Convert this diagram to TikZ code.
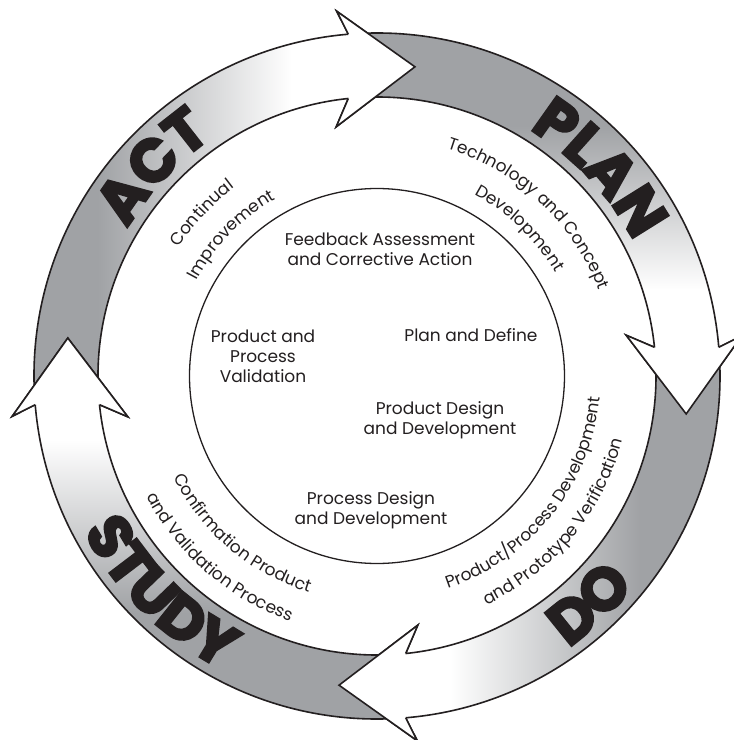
\documentclass[tikz,border=0pt]{standalone}
\usepackage{fontspec}
\setmainfont{Poppins}
\newfontfamily\heavyfont{Poppins}[BoldFeatures={FakeBold=4}]
\usetikzlibrary{decorations.text}
\definecolor{bandgray}{RGB}{160,162,165}
\definecolor{ink}{RGB}{35,31,32}
\newcommand\bandpath[1]{({#1+100}:343) arc[start angle={#1+100}, end angle={#1+11.8}, radius=343] -- ({#1+13.3}:367) -- (#1:311.5) -- ({#1+16.3}:252.5) -- ({#1+12.9}:279) arc[start angle={#1+12.9}, end angle={#1+100}, radius=279] -- cycle}
\newcommand\headfill[1]{({#1+11.8}:343) -- ({#1+13.3}:367) -- (#1:311.5) -- ({#1+16.3}:252.5) -- ({#1+12.9}:279) -- cycle}
\newcommand\headline[1]{({#1+11.8}:343) -- ({#1+13.3}:367) -- (#1:311.5) -- ({#1+16.3}:252.5) -- ({#1+12.9}:279)}
\newcommand\arcfont{\color{ink}\fontsize{17}{20}\selectfont}
\newcommand\bigfont{\color{ink}\heavyfont\bfseries\fontsize{60}{60}\selectfont}
\begin{document}
\begin{tikzpicture}[x=1pt,y=1pt,
  outline/.style={draw=ink, line width=1.6pt, line join=miter},
  inner/.style={align=center, text=ink, font=\fontsize{17}{20}\selectfont, inner sep=0pt},
  arctext/.style={decorate, decoration={text along path, text align=center, text={|\arcfont|#1}}},
  bigtext/.style={decorate, decoration={text along path, text align=center, text={|\bigfont|#1}}}]
\fill[white] (-377,-364) rectangle (357,376);
\useasboundingbox (-377,-364) rectangle (357,376);
% ACT band
\begin{scope}
\clip \bandpath{83};
\fill[bandgray] (-400,-400) rectangle (-279,400);
\shade[left color=bandgray, right color=white] (-280,-400) rectangle (-85,400);
\fill[white] (-86,-400) rectangle (400,400);
\end{scope}
\path[outline] \bandpath{83};
% PLAN band
\begin{scope}
\clip \bandpath{-7};
\fill[bandgray] (-400,249) rectangle (400,400);
\shade[top color=bandgray, bottom color=white] (-400,86) rectangle (400,250);
\fill[white] (-400,-400) rectangle (400,87);
\end{scope}
\path[outline] \bandpath{-7};
% DO band
\begin{scope}
\clip \bandpath{263};
\fill[bandgray] (262,-400) rectangle (400,400);
\shade[left color=white, right color=bandgray] (73,-400) rectangle (263,400);
\fill[white] (-400,-400) rectangle (74,400);
\end{scope}
\path[outline] \bandpath{263};
% STUDY band
\begin{scope}
\clip \bandpath{173};
\fill[bandgray] (-400,-400) rectangle (400,-236);
\shade[bottom color=bandgray, top color=white] (-400,-237) rectangle (400,-64);
\fill[white] (-400,-65) rectangle (400,400);
\end{scope}
\path[outline] \bandpath{173};
% arrow heads on top
\foreach \t in {83,-7,263,173}{
  \fill[white] \headfill{\t};
  \path[outline] \headline{\t};
}
% inner circle
\draw[ink, line width=1.3pt] (0,0) circle[radius=187.5];
% band labels
\path[bigtext=PLAN] (113:290) arc[start angle=113, end angle=-27, radius=290];
\path[bigtext=ACT] (207:290) arc[start angle=207, end angle=67, radius=290];
\path[bigtext=DO] (-117:332) arc[start angle=-117, end angle=23, radius=332];
\path[bigtext=STUDY] (155:332) arc[start angle=155, end angle=295, radius=332];
% ring texts
\path[arctext=Technology and Concept] (117:238) arc[start angle=117, end angle=-23, radius=238];
\path[arctext=Development] (116:206) arc[start angle=116, end angle=-24, radius=206];
\path[arctext=Continual] (207:236) arc[start angle=207, end angle=67, radius=236];
\path[arctext=Improvement] (206:204) arc[start angle=206, end angle=66, radius=204];
\path[arctext=Product/Process Development] (-108.5:224) arc[start angle=-108.5, end angle=31.5, radius=224];
\path[arctext=and Prototype Verification] (-109.5:254) arc[start angle=-109.5, end angle=30.5, radius=254];
\path[arctext=Confirmation Product] (159.5:227) arc[start angle=159.5, end angle=299.5, radius=227];
\path[arctext=and Validation Process] (159:260) arc[start angle=159, end angle=299, radius=260];
% inner texts
\node[inner] (fb) at (3,126.5) {Feedback Assessment\\and Corrective Action};
\node[inner] (pd) at (94,41) {Plan and Define};
\node[inner] (pv) at (-114,20) {Product and\\Process\\Validation};
\node[inner] (pdd) at (63,-44) {Product Design\\and Development};
\node[inner] (prd) at (-6,-134) {Process Design\\and Development};
\end{tikzpicture}
\end{document}
